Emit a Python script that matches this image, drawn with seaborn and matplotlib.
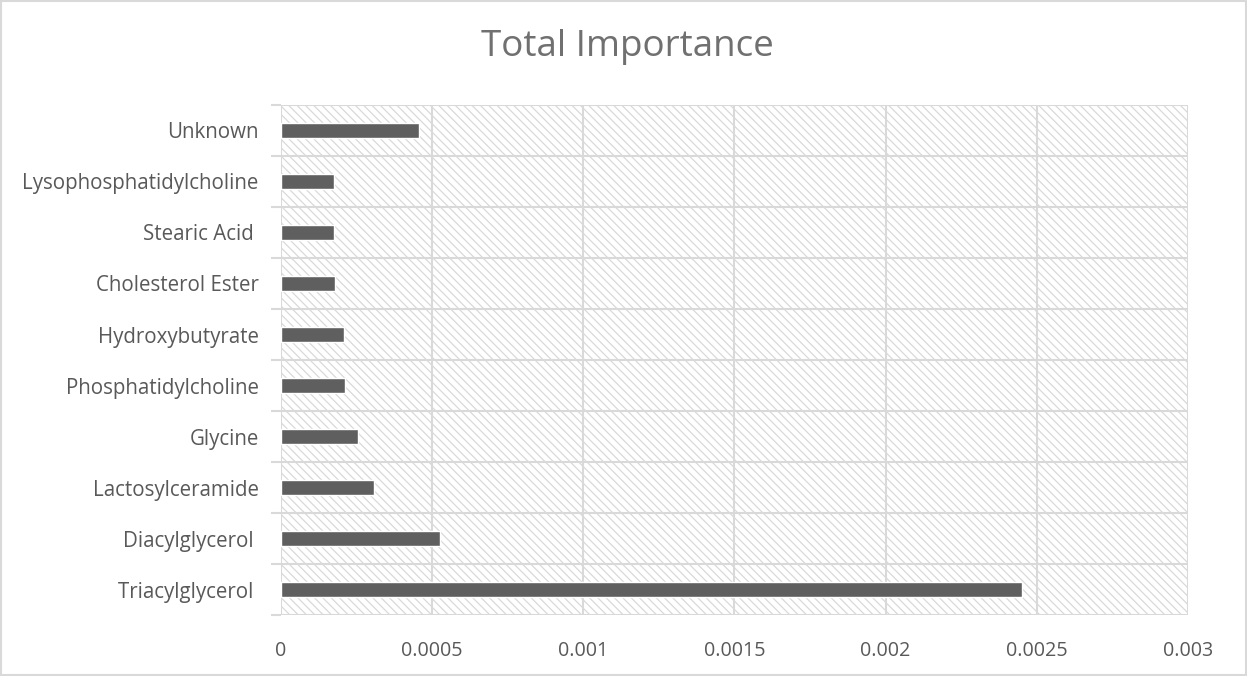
import matplotlib
matplotlib.use("Agg")
import matplotlib.pyplot as plt
import seaborn as sns
import pandas as pd
from matplotlib.patches import Rectangle

# Feature groups (top to bottom as drawn) and their total importance
categories = [
    "Unknown",
    "Lysophosphatidylcholine",
    "Stearic Acid ",
    "Cholesterol Ester",
    "Hydroxybutyrate",
    "Phosphatidylcholine",
    "Glycine",
    "Lactosylceramide",
    "Diacylglycerol ",
    "Triacylglycerol ",
]
importance = [
    0.000457,
    0.000175,
    0.000175,
    0.000178,
    0.000208,
    0.000212,
    0.000255,
    0.000309,
    0.000527,
    0.002451,
]
x_ticks = [0, 0.0005, 0.001, 0.0015, 0.002, 0.0025, 0.003]
x_tick_labels = ["0", "0.0005", "0.001", "0.0015", "0.002", "0.0025", "0.003"]

df = pd.DataFrame({"category": categories, "importance": importance})

sns.set_theme(style="white")
plt.rcParams["font.family"] = ["Open Sans", "DejaVu Sans"]
plt.rcParams["hatch.linewidth"] = 0.9

fig = plt.figure(figsize=(12.47, 6.76), dpi=100)
ax = fig.add_axes([0.2253, 0.0902, 0.7274, 0.7545])

# Light diagonal hatching behind the plot area
ax.add_patch(Rectangle((0, 0), 1, 1, transform=ax.transAxes,
                       facecolor="white", edgecolor="#d9d9d9",
                       hatch="\\\\\\\\", linewidth=0, zorder=0))

sns.barplot(data=df, x="importance", y="category", orient="h",
            color="#5f5f5f", saturation=1, width=0.28, ax=ax, zorder=3)

ax.set_xlim(0, 0.003)
ax.set_ylim(len(categories) - 0.5, -0.5)
ax.set_xticks(x_ticks)
ax.set_xticklabels(x_tick_labels)
ax.set_xlabel("")
ax.set_ylabel("")

# Vertical gridlines at x ticks, horizontal separators between categories
grid_col = "#d9d9d9"
for xv in x_ticks:
    ax.axvline(xv, color=grid_col, lw=1.5, zorder=1)
for k in range(len(categories) + 1):
    ax.axhline(k - 0.5, color=grid_col, lw=1.5, zorder=1)
ax.set_yticks([k - 0.5 for k in range(len(categories) + 1)], minor=True)
ax.tick_params(axis="y", which="minor", length=7, width=1.5, color=grid_col, left=True)
ax.tick_params(axis="y", which="major", length=0, pad=16, labelsize=14.8, labelcolor="#595959")
ax.tick_params(axis="x", length=0, pad=19, labelsize=14.2, labelcolor="#595959")

for s in ax.spines.values():
    s.set_visible(False)

fig.text(0.503, 0.93, "Total Importance", ha="center", va="center",
         fontsize=26.5, color="#707070")

# Thin frame around the chart area
fig.patches.append(Rectangle((0.001, 0.001), 0.998, 0.997, transform=fig.transFigure,
                             fill=False, edgecolor="#d9d9d9", linewidth=1.5))

fig.savefig("out.png", dpi=100)
